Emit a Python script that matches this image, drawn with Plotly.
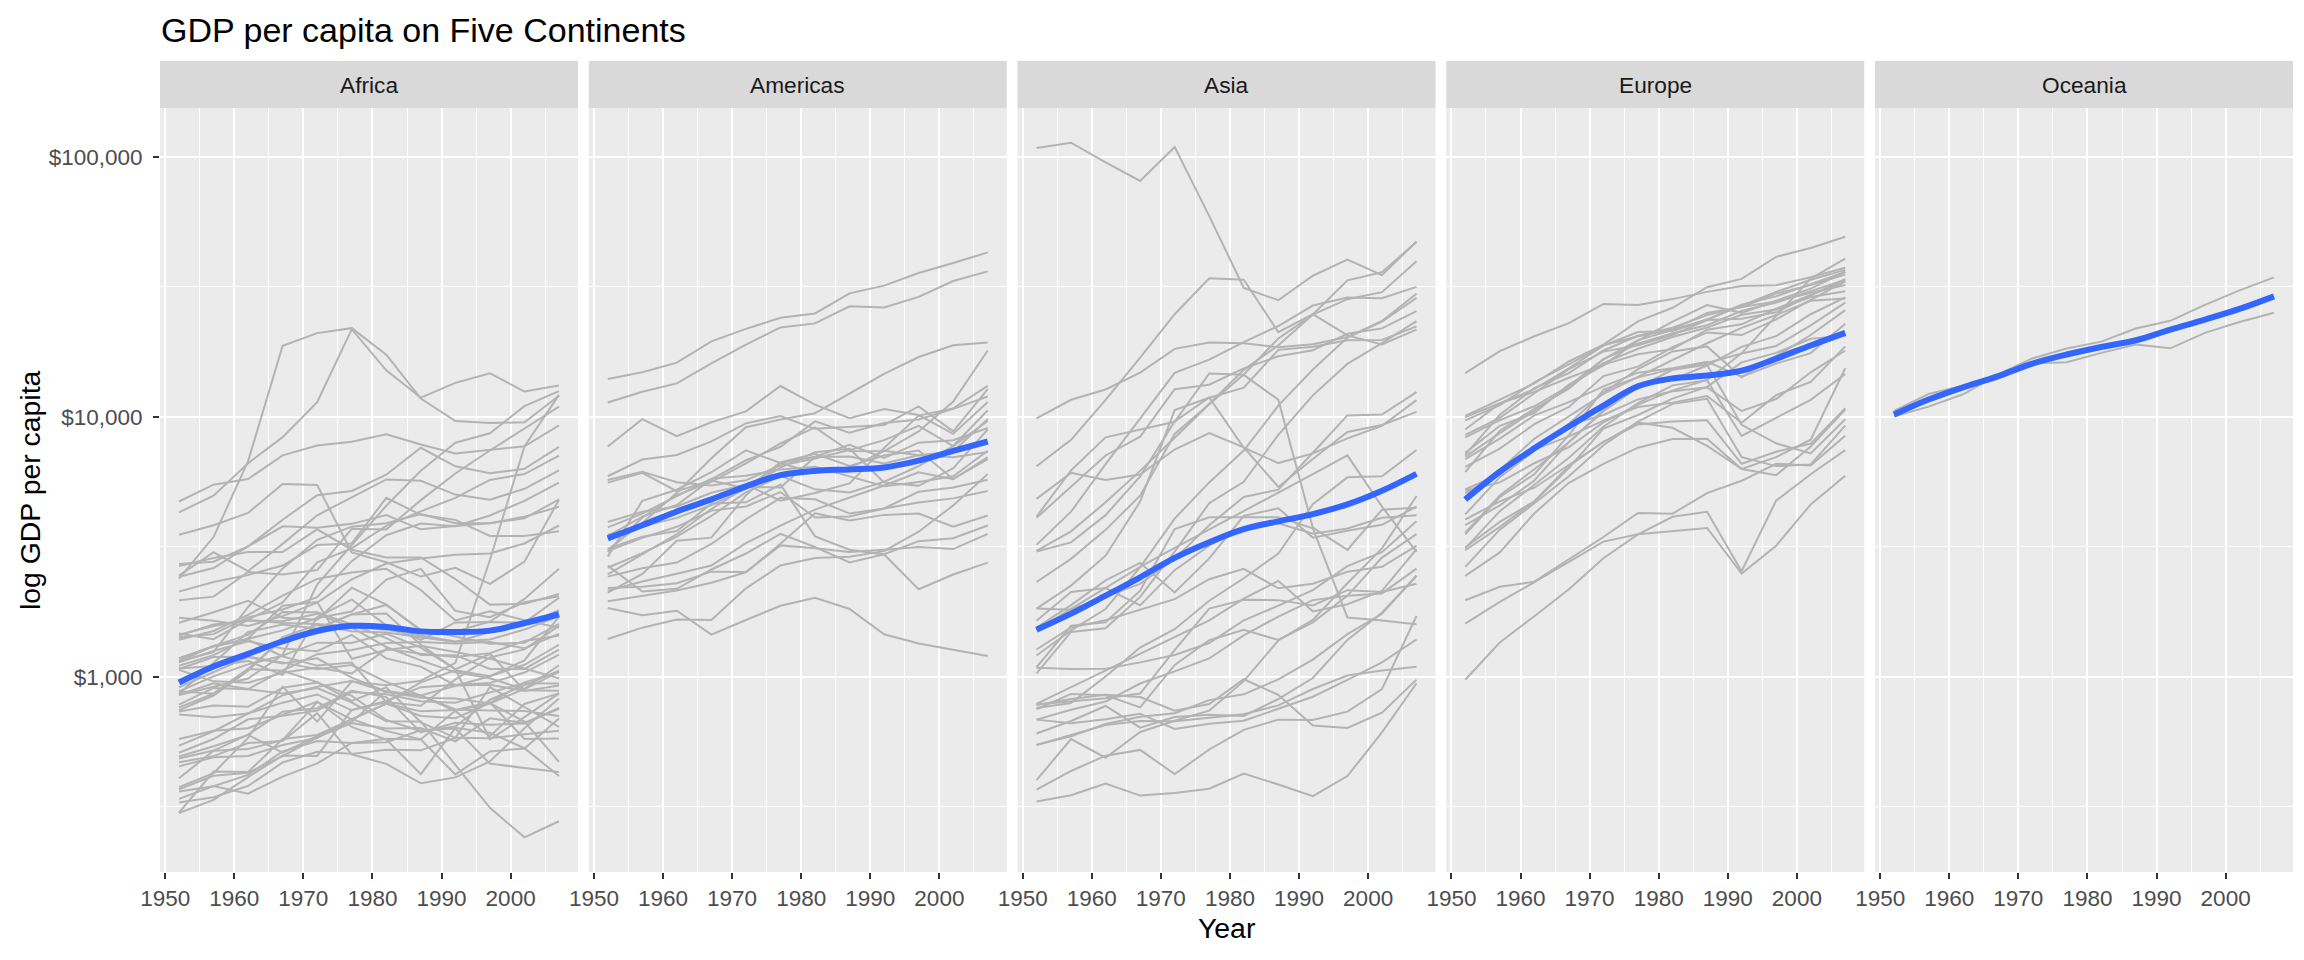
import plotly.graph_objects as go

years = [1952, 1957, 1962, 1967, 1972, 1977, 1982, 1987, 1992, 1997, 2002, 2007]

africa = {
    "Algeria": [2449, 3014, 2551, 3247, 4183, 4910, 5745, 5681, 5023, 4797, 5288, 6223],
    "Angola": [3521, 3828, 4269, 5523, 5473, 3009, 2757, 2430, 2628, 2277, 2773, 4797],
    "Benin": [1063, 960, 949, 1036, 1086, 1029, 1278, 1226, 1191, 1233, 1373, 1441],
    "Botswana": [851, 918, 984, 1215, 2264, 3215, 4551, 6206, 7954, 8647, 11004, 12570],
    "Burkina Faso": [543, 617, 722, 795, 855, 743, 807, 912, 932, 946, 1038, 1217],
    "Burundi": [339, 380, 355, 413, 464, 556, 560, 622, 632, 463, 446, 430],
    "Cameroon": [1173, 1313, 1400, 1508, 1684, 1783, 2367, 2602, 1793, 1694, 1934, 2042],
    "Central African Republic": [1071, 1191, 1193, 1136, 1070, 1109, 956, 844, 748, 741, 738, 706],
    "Chad": [1179, 1308, 1390, 1197, 1104, 1134, 798, 952, 1058, 1005, 1156, 1704],
    "Comoros": [1103, 1211, 1407, 1876, 1938, 1173, 1267, 1316, 1246, 1174, 1076, 986],
    "Congo, Dem. Rep.": [781, 906, 896, 862, 905, 796, 674, 673, 458, 313, 241, 278],
    "Congo, Rep.": [2126, 2315, 2465, 2678, 3213, 3260, 4880, 4201, 4016, 3484, 3484, 3633],
    "Cote d'Ivoire": [1389, 1500, 1729, 2052, 2379, 2518, 2603, 2157, 1648, 1786, 1649, 1545],
    "Djibouti": [2670, 2865, 3021, 3020, 3694, 3082, 2879, 2880, 2377, 1895, 1908, 2082],
    "Egypt": [1419, 1459, 1693, 1815, 2024, 2785, 3504, 3885, 3795, 4173, 4755, 5581],
    "Equatorial Guinea": [376, 426, 582, 915, 672, 958, 927, 966, 1132, 2815, 7703, 12154],
    "Eritrea": [328, 344, 380, 468, 514, 505, 524, 521, 582, 913, 765, 641],
    "Ethiopia": [362, 379, 419, 516, 566, 556, 577, 573, 421, 516, 530, 691],
    "Gabon": [4293, 4977, 6631, 8359, 11401, 21746, 15113, 11864, 13522, 14723, 12522, 13206],
    "Gambia": [485, 520, 599, 734, 757, 884, 835, 611, 665, 654, 661, 753],
    "Ghana": [911, 1044, 1190, 1126, 1178, 993, 876, 847, 925, 1005, 1112, 1328],
    "Guinea": [510, 576, 686, 708, 741, 874, 857, 805, 794, 870, 945, 943],
    "Guinea-Bissau": [300, 432, 430, 576, 597, 685, 788, 736, 745, 797, 576, 579],
    "Kenya": [854, 944, 897, 1057, 1222, 1268, 1348, 1361, 1342, 1360, 1288, 1463],
    "Lesotho": [299, 336, 411, 498, 496, 746, 797, 774, 977, 1186, 1275, 1569],
    "Liberia": [576, 620, 634, 714, 803, 641, 573, 422, 636, 609, 531, 415],
    "Libya": [2388, 3448, 6757, 18773, 21011, 21951, 17364, 11770, 9640, 9467, 9535, 12057],
    "Madagascar": [1443, 1590, 1644, 1634, 1749, 1544, 1302, 1156, 1040, 987, 895, 1045],
    "Malawi": [369, 416, 427, 495, 585, 663, 632, 635, 564, 692, 665, 759],
    "Mali": [452, 490, 496, 546, 581, 687, 619, 574, 740, 791, 952, 1042],
    "Mauritania": [744, 847, 1055, 1421, 1586, 1497, 1481, 1421, 1361, 1483, 1579, 1803],
    "Mauritius": [1968, 2034, 2529, 2476, 2575, 3711, 3688, 4783, 6058, 7426, 9021, 10957],
    "Morocco": [1688, 1643, 1567, 1712, 1930, 2371, 2728, 2852, 2948, 2982, 3258, 3820],
    "Mozambique": [469, 495, 556, 566, 724, 503, 462, 389, 410, 472, 634, 824],
    "Namibia": [2424, 2621, 3173, 3793, 3747, 3876, 4191, 3693, 3804, 3899, 4072, 4811],
    "Niger": [762, 860, 1072, 1054, 954, 808, 910, 668, 582, 580, 601, 620],
    "Nigeria": [1077, 1100, 1151, 1015, 1698, 1982, 1577, 1385, 1619, 1625, 1615, 2014],
    "Reunion": [2719, 2770, 3173, 4021, 4993, 5187, 5989, 7608, 6452, 6071, 6316, 7670],
    "Rwanda": [493, 540, 597, 511, 591, 670, 882, 848, 737, 590, 786, 863],
    "Sao Tome and Principe": [880, 861, 1072, 1385, 1533, 1738, 1890, 1517, 1429, 1339, 1353, 1598],
    "Senegal": [1450, 1568, 1654, 1612, 1597, 1562, 1518, 1441, 1367, 1392, 1519, 1712],
    "Sierra Leone": [879, 1004, 1116, 1206, 1353, 1349, 1465, 1294, 1069, 575, 699, 863],
    "Somalia": [1136, 1258, 1369, 1285, 1254, 1450, 1177, 1094, 926, 931, 882, 926],
    "South Africa": [4725, 5487, 5769, 7114, 7766, 8029, 8568, 7826, 7225, 7479, 7710, 9270],
    "Sudan": [1615, 1770, 1959, 1688, 1659, 2202, 1896, 1507, 1492, 1632, 1993, 2602],
    "Swaziland": [1148, 1244, 1856, 2613, 3364, 3781, 3896, 4229, 3900, 3895, 4128, 4513],
    "Tanzania": [716, 698, 722, 848, 916, 963, 875, 831, 825, 789, 899, 1107],
    "Togo": [860, 1127, 1487, 1588, 1532, 1738, 1750, 1328, 1068, 1226, 887, 883],
    "Tunisia": [1468, 1395, 1660, 1932, 2754, 3121, 3810, 4332, 4877, 5723, 6029, 7093],
    "Uganda": [735, 775, 767, 908, 950, 844, 682, 617, 644, 816, 927, 1056],
    "Zambia": [1147, 1312, 1453, 1777, 1773, 1589, 1409, 1213, 1211, 1071, 1072, 1271],
    "Zimbabwe": [407, 519, 527, 570, 799, 686, 789, 706, 693, 792, 672, 470],
}

americas = {
    "Argentina": [5911, 6857, 7133, 8053, 9443, 10079, 8998, 9140, 9308, 10968, 8798, 12779],
    "Bolivia": [2677, 2128, 2181, 2587, 2980, 3548, 3157, 2754, 2962, 3326, 3413, 3822],
    "Brazil": [2109, 2487, 3337, 3430, 4986, 6660, 7031, 7807, 6950, 7958, 8131, 9066],
    "Canada": [11367, 12490, 13462, 16077, 18971, 22091, 22899, 26627, 26343, 28955, 33329, 36319],
    "Chile": [3940, 4316, 4520, 5107, 5494, 4757, 5096, 5547, 7596, 10118, 10779, 13172],
    "Colombia": [2144, 2324, 2492, 2679, 3265, 3816, 4398, 4903, 5445, 6118, 5755, 7007],
    "Costa Rica": [2628, 2990, 3461, 4162, 5119, 5927, 5263, 5116, 5630, 6466, 7723, 9645],
    "Cuba": [5587, 6093, 5181, 5690, 5305, 6381, 7317, 7533, 5593, 5431, 6341, 8948],
    "Dominican Republic": [1398, 1545, 1662, 1654, 2190, 2681, 2862, 2899, 3044, 3615, 4564, 6025],
    "Ecuador": [3522, 3781, 4086, 4580, 5280, 6680, 7213, 6481, 7104, 7430, 5773, 6873],
    "El Salvador": [3048, 3422, 3776, 4359, 4520, 5139, 4098, 4140, 4444, 5155, 5351, 5728],
    "Guatemala": [2428, 2617, 2750, 3243, 4031, 4880, 4820, 4246, 4439, 4684, 4858, 5186],
    "Haiti": [1840, 1726, 1796, 1452, 1654, 1875, 2012, 1823, 1457, 1342, 1270, 1202],
    "Honduras": [2195, 2220, 2291, 2538, 2529, 3203, 3121, 3023, 3082, 3160, 3099, 3548],
    "Jamaica": [2899, 4757, 5246, 6125, 7434, 6650, 6068, 6351, 7405, 7122, 6995, 7321],
    "Mexico": [3478, 4132, 4582, 5755, 6809, 7675, 9611, 8688, 9472, 9767, 10742, 11978],
    "Nicaragua": [3112, 3457, 3635, 4643, 4689, 5486, 3470, 3081, 2955, 2171, 2475, 2749],
    "Panama": [2480, 2961, 3536, 4421, 5365, 5352, 7009, 7034, 6619, 7113, 7357, 9809],
    "Paraguay": [1952, 2046, 2148, 2299, 2523, 3248, 4259, 3998, 4197, 4248, 3784, 4173],
    "Peru": [3759, 4245, 4957, 5788, 5938, 6281, 6435, 5909, 5410, 5614, 5909, 7409],
    "Puerto Rico": [3082, 3908, 5108, 6929, 9123, 9771, 10331, 12281, 14642, 16999, 18855, 19329],
    "Trinidad and Tobago": [3023, 4100, 4997, 5621, 6619, 7900, 9119, 7389, 7370, 8793, 11461, 18009],
    "United States": [13990, 14847, 16173, 19530, 21806, 24073, 25010, 29884, 32004, 35767, 39097, 42952],
    "Uruguay": [5717, 6151, 5603, 5445, 5703, 6504, 6920, 7452, 8137, 9231, 7727, 10611],
    "Venezuela": [7690, 9803, 8423, 9541, 10505, 13144, 11152, 9883, 10734, 10165, 8605, 11416],
}

asia = {
    "Afghanistan": [779, 821, 853, 836, 740, 786, 978, 852, 649, 635, 727, 975],
    "Bahrain": [9867, 11636, 12753, 14805, 18269, 19340, 19211, 18524, 19036, 20292, 23404, 29796],
    "Bangladesh": [684, 662, 686, 721, 630, 660, 677, 752, 838, 973, 1136, 1391],
    "Cambodia": [368, 434, 497, 523, 422, 525, 625, 684, 682, 734, 896, 1714],
    "China": [400, 576, 488, 613, 677, 741, 962, 1379, 1656, 2289, 3119, 4959],
    "Hong Kong": [3054, 3629, 4693, 6198, 8316, 11186, 14561, 20038, 24758, 28378, 30209, 39725],
    "India": [547, 590, 658, 701, 724, 813, 856, 977, 1164, 1459, 1747, 2452],
    "Indonesia": [750, 859, 849, 762, 1111, 1383, 1517, 1385, 1620, 2049, 2874, 3541],
    "Iran": [3035, 3290, 4187, 5907, 9613, 11889, 7608, 6642, 7236, 8264, 9241, 11606],
    "Iraq": [4130, 6229, 8342, 8931, 9576, 14688, 14517, 11644, 3746, 3076, 4391, 4471],
    "Israel": [4087, 5386, 7105, 8394, 12787, 13306, 15367, 17122, 18051, 20897, 21905, 25523],
    "Japan": [3217, 4318, 6577, 9848, 14779, 16610, 19384, 22376, 26825, 28816, 28605, 31656],
    "Jordan": [1547, 1887, 2348, 2742, 2110, 2853, 4161, 4449, 3431, 3645, 3845, 4519],
    "Korea, Dem. Rep.": [1088, 1571, 1622, 2144, 3702, 4106, 4106, 4107, 3727, 1691, 1647, 1593],
    "Korea, Rep.": [1031, 1488, 1536, 2029, 3031, 4657, 5623, 8533, 12104, 15994, 19234, 23348],
    "Kuwait": [108382, 113523, 95458, 80895, 109348, 59265, 31354, 28118, 34933, 40301, 35110, 47307],
    "Lebanon": [4835, 6090, 5715, 6006, 7487, 8660, 7641, 5377, 6891, 8755, 9314, 10461],
    "Malaysia": [1831, 1810, 2037, 2278, 2849, 3828, 4920, 5249, 7278, 10133, 10207, 12452],
    "Mongolia": [787, 912, 1056, 1226, 1421, 1648, 2000, 2339, 1785, 1902, 2141, 3096],
    "Myanmar": [331, 350, 388, 349, 357, 371, 424, 385, 347, 415, 611, 944],
    "Nepal": [546, 598, 652, 676, 674, 695, 718, 776, 897, 1011, 1057, 1092],
    "Oman": [1828, 2243, 2924, 4721, 10618, 11848, 12955, 18116, 18617, 19702, 19775, 22316],
    "Pakistan": [684, 747, 803, 942, 1049, 1176, 1443, 1705, 1972, 2049, 2093, 2606],
    "Philippines": [1273, 1548, 1650, 1815, 1989, 2373, 2603, 2190, 2279, 2537, 2651, 3190],
    "Saudi Arabia": [6460, 8157, 11626, 16903, 24837, 34168, 33693, 21199, 24841, 20586, 19014, 21655],
    "Singapore": [2315, 2843, 3675, 4977, 8597, 11210, 15169, 18862, 24769, 33519, 36023, 47143],
    "Sri Lanka": [1083, 1072, 1074, 1136, 1213, 1349, 1648, 1877, 2154, 2665, 3015, 3970],
    "Syria": [1643, 2118, 2194, 1882, 2572, 3195, 3762, 3900, 3554, 3718, 4091, 4185],
    "Taiwan": [1207, 1508, 1823, 2644, 4063, 5597, 7426, 11055, 15216, 20206, 23235, 28718],
    "Thailand": [758, 793, 1002, 1296, 1524, 1962, 2393, 2982, 4617, 5853, 5913, 7458],
    "Vietnam": [605, 676, 772, 637, 700, 714, 707, 821, 989, 1386, 1764, 2442],
    "West Bank and Gaza": [1516, 1827, 2199, 2650, 3133, 3683, 4336, 5108, 6018, 7111, 4516, 3026],
    "Yemen, Rep.": [782, 805, 826, 862, 1265, 1830, 1978, 1972, 1880, 2154, 2118, 2281],
}

europe = {
    "Albania": [1601, 1942, 2313, 2760, 3313, 3533, 3631, 3739, 2497, 3193, 4604, 5937],
    "Austria": [6137, 8843, 10751, 12835, 16662, 19749, 21597, 23688, 27042, 29096, 32418, 36126],
    "Belgium": [8343, 9715, 10991, 13149, 16672, 19118, 20980, 22526, 25576, 27561, 30486, 33693],
    "Bosnia and Herzegovina": [974, 1354, 1710, 2172, 2860, 3528, 4127, 4314, 2547, 4766, 6019, 7446],
    "Bulgaria": [2444, 3009, 4255, 5578, 6598, 7612, 8225, 8239, 6303, 5970, 7697, 10681],
    "Croatia": [3119, 4338, 5478, 6960, 9165, 11305, 13222, 13823, 8448, 9876, 11628, 14619],
    "Czech Republic": [6876, 8256, 10137, 11399, 13108, 14800, 15378, 16310, 14297, 16049, 17596, 22833],
    "Denmark": [9692, 11100, 13583, 15937, 18866, 20423, 21688, 25116, 26407, 29804, 32167, 35278],
    "Finland": [6425, 7545, 9372, 10922, 14359, 15605, 18533, 21141, 20647, 23724, 28205, 33207],
    "France": [7030, 8663, 10560, 12999, 16107, 18293, 20294, 22066, 24704, 25890, 28926, 30470],
    "Germany": [7144, 10188, 12902, 14746, 18016, 20513, 22032, 24639, 26505, 27789, 30036, 32170],
    "Greece": [3531, 4916, 6017, 8513, 12725, 14196, 15268, 16121, 17541, 18748, 22514, 27538],
    "Hungary": [5264, 6040, 7550, 9326, 10168, 11675, 12546, 12986, 10536, 11712, 14843, 18009],
    "Iceland": [7268, 9244, 10350, 13320, 15798, 19655, 23270, 26923, 25144, 28061, 31163, 36181],
    "Ireland": [5210, 5599, 6632, 7656, 9531, 11151, 12618, 13873, 17558, 24522, 34077, 40676],
    "Italy": [4931, 6249, 8244, 10022, 12269, 14256, 16537, 19208, 22014, 24675, 27968, 28570],
    "Montenegro": [2648, 3682, 4650, 5907, 7779, 9595, 11223, 11733, 7003, 6466, 6557, 9254],
    "Netherlands": [8942, 11276, 12791, 15363, 18795, 21209, 21400, 23651, 26791, 30246, 33725, 36798],
    "Norway": [10095, 11654, 13450, 16362, 18965, 23311, 26299, 31541, 33966, 41283, 44684, 49357],
    "Poland": [4029, 4734, 5339, 6557, 8007, 9508, 9082, 7739, 6311, 7004, 8173, 15390],
    "Portugal": [3068, 3775, 4728, 6361, 9022, 10172, 11754, 13040, 16207, 17641, 19971, 20510],
    "Romania": [3145, 3943, 4735, 6471, 8011, 9356, 9605, 9697, 6599, 7347, 7886, 10808],
    "Serbia": [3581, 4981, 6290, 7992, 10523, 12980, 15181, 15870, 9325, 7914, 7236, 9787],
    "Slovak Republic": [5075, 6094, 7482, 8412, 9674, 10922, 11349, 12037, 9498, 12127, 13639, 18678],
    "Slovenia": [4215, 5862, 7402, 9405, 12384, 15278, 17867, 18678, 14214, 17161, 20660, 25768],
    "Spain": [3834, 4565, 5694, 7994, 10639, 13237, 13926, 15765, 18603, 20445, 24835, 28821],
    "Sweden": [8528, 9912, 12329, 15258, 17832, 18856, 20667, 23587, 23880, 25267, 29342, 33860],
    "Switzerland": [14734, 17909, 20431, 22966, 27195, 26982, 28398, 30282, 31872, 32135, 34481, 37506],
    "Turkey": [1969, 2219, 2323, 2826, 3450, 4270, 4241, 5089, 5678, 6601, 6508, 8458],
    "United Kingdom": [9980, 11283, 12477, 14143, 15895, 17429, 18232, 21665, 22705, 26075, 29479, 33203],
}

oceania = {
    "Australia": [10040, 10950, 12217, 14526, 16789, 18334, 19477, 21889, 23425, 26998, 30688, 34435],
    "New Zealand": [10557, 12247, 13176, 14464, 16046, 16234, 17632, 19007, 18363, 21050, 23190, 25185],
}

# smoothed trend
africa_smooth = [950, 1095, 1225, 1370, 1500, 1570, 1555, 1495, 1487, 1505, 1610, 1740]
americas_smooth = [3410, 3830, 4325, 4815, 5405, 5970, 6205, 6280, 6390, 6790, 7400, 8040]
asia_smooth = [1517, 1750, 2052, 2415, 2869, 3295, 3700, 3963, 4227, 4608, 5200, 6040]
europe_smooth = [4810, 6150, 7570, 9180, 11050, 13120, 14060, 14430, 15060, 16760, 18830, 21050]
oceania_smooth = [10210, 11660, 13000, 14320, 16030, 17380, 18580, 19720, 21680, 23680, 26030, 29100]

continents = ["Africa", "Americas", "Asia", "Europe", "Oceania"]
country_data = [africa, americas, asia, europe, oceania]
smooth_data = [africa_smooth, americas_smooth, asia_smooth, europe_smooth, oceania_smooth]

y_tickvals = [1000, 10000, 100000]
y_ticktext = ["$1,000", "$10,000", "$100,000"]
y_minor = [316.23, 3162.3, 31623]
x_tickvals = [1950, 1960, 1970, 1980, 1990, 2000]
x_minor = [1955, 1965, 1975, 1985, 1995, 2005]

# page body has an 8px margin: figure is 2288x944 placed at (8, 8)
OFF = 8
W, H = 2304 - 2 * OFF, 960 - 2 * OFF
panel_left0 = 160 - OFF
panel_w = 418
step = 428.75
panel_top, panel_bottom = 108 - OFF, 872 - OFF
strip_top = 61 - OFF

FONT = "Liberation Sans, Arial, sans-serif"
TICK_SIZE = 22.5
STRIP_SIZE = 22.7
AXTITLE_SIZE = 28.4
TITLE_SIZE = 34

fig = go.Figure()
layout = dict(
    width=W, height=H,
    margin=dict(l=0, r=0, t=0, b=0, pad=0),
    paper_bgcolor="white",
    plot_bgcolor="#EBEBEB",
    showlegend=False,
    font=dict(family=FONT, size=18, color="#4D4D4D"),
)

shapes = []
annotations = []

for i, (cont, data, smooth) in enumerate(zip(continents, country_data, smooth_data)):
    n = i + 1
    xs, ys = [], []
    for name, vals in data.items():
        xs += years + [None]
        ys += vals + [None]
    xref = "x" if n == 1 else f"x{n}"
    yref = "y" if n == 1 else f"y{n}"
    fig.add_trace(go.Scatter(x=xs, y=ys, mode="lines", xaxis=xref, yaxis=yref,
                             line=dict(color="#B3B3B3", width=2), hoverinfo="skip",
                             connectgaps=False))
    fig.add_trace(go.Scatter(x=years, y=smooth, mode="lines", xaxis=xref, yaxis=yref,
                             line=dict(color="#3366FF", width=6, shape="spline", smoothing=1.0),
                             hoverinfo="skip"))

    left = panel_left0 + i * step
    right = left + panel_w
    d0, d1 = left / W, right / W
    xkey = "xaxis" if n == 1 else f"xaxis{n}"
    ykey = "yaxis" if n == 1 else f"yaxis{n}"
    layout[xkey] = dict(
        domain=[d0, d1], anchor=yref, range=[1949.25, 2009.75], automargin=False,
        tickmode="array", tickvals=x_tickvals, ticktext=[str(v) for v in x_tickvals],
        ticks="outside", ticklen=6, tickwidth=2, tickcolor="#333333",
        tickfont=dict(family=FONT, size=TICK_SIZE, color="#4D4D4D"),
        showgrid=True, gridcolor="white", gridwidth=2,
        minor=dict(tickmode="array", tickvals=x_minor, showgrid=True,
                   gridcolor="white", gridwidth=1, ticks=""),
        zeroline=False, showline=False, fixedrange=True,
    )
    layout[ykey] = dict(
        domain=[1 - panel_bottom / H, 1 - panel_top / H], anchor=xref, automargin=False,
        type="log", range=[2.2487, 5.1887],
        tickmode="array", tickvals=y_tickvals, ticktext=y_ticktext,
        showticklabels=(n == 1), ticklabelstandoff=6,
        ticks="outside" if n == 1 else "", ticklen=6, tickwidth=2, tickcolor="#333333",
        tickfont=dict(family=FONT, size=TICK_SIZE, color="#4D4D4D"),
        showgrid=True, gridcolor="white", gridwidth=2,
        minor=dict(tickmode="array", tickvals=y_minor, showgrid=True,
                   gridcolor="white", gridwidth=1, ticks=""),
        zeroline=False, showline=False, fixedrange=True,
    )
    if n > 1:
        layout[ykey]["matches"] = "y"

    # facet strip
    shapes.append(dict(type="rect", xref="paper", yref="paper",
                       x0=d0, x1=d1, y0=1 - panel_top / H, y1=1 - strip_top / H,
                       fillcolor="#D9D9D9", line=dict(width=0), layer="below"))
    annotations.append(dict(text=cont, xref="paper", yref="paper",
                            x=(d0 + d1) / 2, y=1 - (strip_top + panel_top) / 2 / H,
                            xanchor="center", yanchor="middle", showarrow=False,
                            font=dict(family=FONT, size=STRIP_SIZE, color="#1A1A1A")))

# title and axis titles
annotations.append(dict(text="GDP per capita on Five Continents", xref="paper", yref="paper",
                        x=(159 - OFF) / W, y=1 - (30 - OFF) / H, xanchor="left", yanchor="middle",
                        showarrow=False, font=dict(family=FONT, size=TITLE_SIZE, color="black")))
last_right = panel_left0 + 4 * step + panel_w
annotations.append(dict(text="Year", xref="paper", yref="paper",
                        x=(panel_left0 + last_right) / 2 / W, y=1 - (928 - OFF) / H,
                        xanchor="center", yanchor="middle", showarrow=False,
                        font=dict(family=FONT, size=AXTITLE_SIZE, color="black")))
annotations.append(dict(text="log GDP per capita", xref="paper", yref="paper",
                        x=(30 - OFF) / W, y=1 - (panel_top + panel_bottom) / 2 / H,
                        xanchor="center", yanchor="middle", textangle=-90, showarrow=False,
                        font=dict(family=FONT, size=AXTITLE_SIZE, color="black")))

layout["shapes"] = shapes
layout["annotations"] = annotations
fig.update_layout(**layout)

fig.write_html("out.html")
